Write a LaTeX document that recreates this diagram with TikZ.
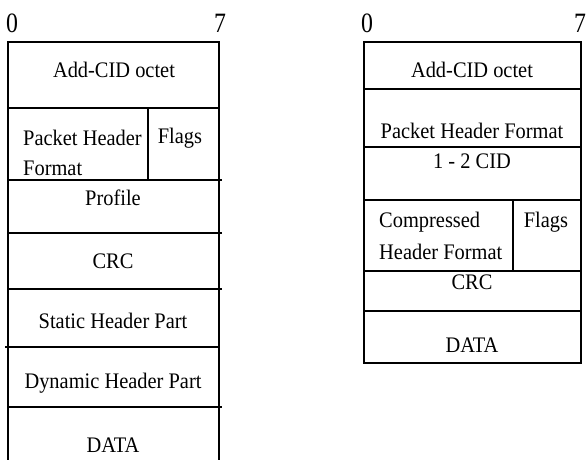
\documentclass[tikz,border=0pt]{standalone}
\usepackage{fontspec}
\setmainfont{Liberation Serif}
\newfontfamily\narrowserif[FakeStretch=0.92]{Liberation Serif}
\newfontfamily\digitserif[FakeStretch=0.85]{Liberation Serif}
\begin{document}
\begin{tikzpicture}[x=1pt,y=-1pt,
  frame/.style={line width=1.4pt,black},
  field/.style={font=\narrowserif\fontsize{22.2}{25}\selectfont,inner sep=0pt,anchor=center},
  fieldl/.style={font=\narrowserif\fontsize{22.2}{25}\selectfont,inner sep=0pt,anchor=west},
  bitno/.style={font=\digitserif\fontsize{28}{30}\selectfont,inner sep=0pt,anchor=center}]
\useasboundingbox (0,0) rectangle (587,460);

% ---- full header (left) ----
\node[bitno] (l0) at (12,23) {0};
\node[bitno] (l7) at (220,23) {7};
\draw[frame] (8,460) -- (8,42) -- (219,42) -- (219,460);
\draw[frame] (8,108) -- (219,108);
\draw[frame] (148,108) -- (148,180);
\draw[frame] (8,180) -- (222,180);
\draw[frame] (8,233) -- (222,233);
\draw[frame] (8,289) -- (222,289);
\draw[frame] (5,347) -- (219,347);
\draw[frame] (8,407) -- (222,407);

\node[field] (laddcid) at (114,70) {Add-CID octet};
\node[fieldl] (lphf1) at (23,138) {Packet Header};
\node[fieldl] (lphf2) at (23,168) {Format};
\node[field] (lflags) at (180,138) {Flags};
\node[field] (lprof) at (113,198) {Profile};
\node[field] (lcrc) at (113,261) {CRC};
\node[field] (lstat) at (113,321) {Static Header Part};
\node[field] (ldyn) at (113,383) {Dynamic Header Part};
\node[field] (ldata) at (113,445) {DATA};

% ---- compressed header (right) ----
\node[bitno] (r0) at (367,23) {0};
\node[bitno] (r7) at (580,23) {7};
\draw[frame] (364,42) rectangle (581,363);
\draw[frame] (364,89) -- (581,89);
\draw[frame] (364,147) -- (581,147);
\draw[frame] (364,200) -- (581,200);
\draw[frame] (513,200) -- (513,271);
\draw[frame] (364,271) -- (581,271);
\draw[frame] (364,311) -- (581,311);

\node[field] (raddcid) at (472,70) {Add-CID octet};
\node[field] (rphf) at (472,131) {Packet Header Format};
\node[field] (rcid) at (472,161) {1 - 2 CID};
\node[fieldl] (rchf1) at (379,222) {Compressed};
\node[fieldl] (rchf2) at (379,252) {Header Format};
\node[field] (rflags) at (546,222) {Flags};
\node[field] (rcrc) at (472,282) {CRC};
\node[field] (rdata) at (472,345) {DATA};
\end{tikzpicture}
\end{document}
